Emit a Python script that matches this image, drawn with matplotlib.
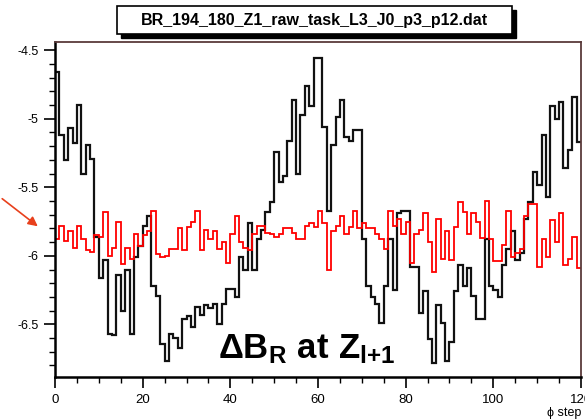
import numpy as np
import matplotlib
matplotlib.use("Agg")
import matplotlib.pyplot as plt
from matplotlib.ticker import MultipleLocator, FuncFormatter
from matplotlib.patches import Rectangle

plt.rcParams['font.family'] = ['Liberation Sans', 'DejaVu Sans']
plt.rcParams['axes.unicode_minus'] = False
plt.rcParams['mathtext.fontset'] = 'custom'
plt.rcParams['mathtext.rm'] = 'Liberation Sans:bold'
plt.rcParams['mathtext.it'] = 'Liberation Sans:bold'
plt.rcParams['mathtext.bf'] = 'Liberation Sans:bold'

# values per phi step (bins 0..119)
dB_black = [-4.66, -5.12, -5.30, -5.07, -5.18, -4.90, -5.40, -5.19, -5.29, -5.86,
            -6.16, -6.03, -6.57, -6.58, -6.14, -6.40, -6.10, -6.57, -6.01, -5.93,
            -5.78, -5.71, -6.22, -6.29, -6.64, -6.77, -6.57, -6.60, -6.67, -6.46,
            -6.44, -6.52, -6.37, -6.43, -6.36, -6.38, -6.35, -6.50, -6.35, -6.24,
            -6.24, -6.30, -6.01, -6.10, -5.76, -6.10, -5.88, -5.81, -5.68, -5.61,
            -5.24, -5.46, -5.42, -5.16, -4.86, -5.40, -4.97, -4.76, -4.91, -4.56,
            -4.56, -5.06, -5.67, -5.19, -4.99, -4.86, -5.13, -5.16, -5.08, -5.08,
            -5.88, -6.22, -6.30, -6.35, -6.49, -6.22, -5.88, -6.25, -5.69, -5.67,
            -5.67, -6.08, -6.08, -6.42, -6.26, -6.61, -6.78, -6.36, -6.49, -6.77,
            -6.63, -6.26, -6.07, -6.22, -6.09, -6.29, -6.46, -6.46, -5.88, -6.22,
            -6.25, -6.30, -6.07, -5.95, -5.82, -6.03, -5.98, -5.73, -5.61, -5.39,
            -5.48, -5.12, -5.57, -4.91, -5.00, -4.88, -5.36, -5.23, -4.84, -5.17]

dB_red = [-5.88, -5.78, -5.89, -5.82, -5.94, -5.78, -5.88, -5.96, -5.97, -5.85,
          -5.86, -5.68, -6.00, -5.94, -5.75, -6.06, -5.94, -6.02, -5.84, -5.93,
          -5.85, -5.82, -5.67, -5.99, -6.01, -6.00, -5.95, -5.95, -5.80, -5.96,
          -5.79, -5.75, -5.67, -5.96, -5.81, -5.88, -5.82, -5.95, -5.90, -6.05,
          -5.84, -5.71, -5.90, -5.94, -5.96, -5.84, -5.78, -5.78, -5.83, -5.84,
          -5.86, -5.84, -5.80, -5.80, -5.83, -5.88, -5.88, -5.78, -5.76, -5.79,
          -5.67, -5.76, -6.10, -5.82, -5.78, -5.71, -5.84, -5.79, -5.67, -5.80,
          -5.76, -5.80, -5.80, -5.84, -5.88, -5.95, -5.67, -5.78, -5.73, -5.84,
          -5.75, -6.05, -5.84, -5.81, -5.69, -5.90, -6.12, -5.73, -6.02, -5.82,
          -6.03, -5.79, -5.61, -5.68, -5.84, -5.69, -5.75, -5.87, -5.60, -5.88,
          -6.04, -6.04, -5.92, -5.67, -6.01, -5.98, -5.95, -5.71, -5.62, -5.62,
          -6.08, -5.88, -6.01, -5.74, -5.90, -5.69, -6.07, -6.02, -5.86, -6.09]

title = "BR_194_180_Z1_raw_task_L3_J0_p3_p12.dat"

fig = plt.figure(figsize=(5.85, 4.2), dpi=100)
W, H = 585.0, 420.0
ax = fig.add_axes([55 / W, 1 - 377 / H, (581 - 55) / W, (377 - 42) / H])

edges = np.arange(len(dB_black) + 1)
ax.stairs(dB_black, edges, baseline=None, color="#111111", lw=1.6)
ax.stairs(dB_red, edges, baseline=None, color="red", lw=1.3)

ax.set_xlim(0, 120)
ax.set_ylim(-6.884, -4.44)

ax.xaxis.set_major_locator(MultipleLocator(20))
ax.xaxis.set_minor_locator(MultipleLocator(5))
ax.yaxis.set_major_locator(MultipleLocator(0.5))
ax.yaxis.set_minor_locator(MultipleLocator(0.1))
ax.yaxis.set_major_formatter(FuncFormatter(lambda v, p: "%g" % v))
ax.tick_params(axis="both", which="major", direction="out", length=8, width=1.2,
               labelsize=9.5, pad=4)
ax.tick_params(axis="both", which="minor", direction="out", length=4.5, width=1.0)
ax.tick_params(axis="y", labelsize=9)

for s in ["left", "bottom"]:
    ax.spines[s].set_linewidth(1.8)
    ax.spines[s].set_color("black")
for s in ["top", "right"]:
    ax.spines[s].set_linewidth(1.3)
    ax.spines[s].set_color("#5a3a3a")

ax.text(37.2, -6.745, r"$\Delta B_R\ at\ Z_{l{+}1}$", fontsize=25, ha="left",
        va="baseline", zorder=5)

fig.text(581 / W, 1 - 413 / H, "ϕ step", fontsize=9, ha="right", va="center")

# title box with shadow
fig.patches.append(Rectangle((121 / W, 1 - 38 / H), 395 / W, 28 / H,
                             transform=fig.transFigure, facecolor="black",
                             edgecolor="black", zorder=1))
fig.patches.append(Rectangle((117 / W, 1 - 34 / H), 395 / W, 28 / H,
                             transform=fig.transFigure, facecolor="white",
                             edgecolor="black", lw=1.2, zorder=2))
fig.text(314.5 / W, 1 - 20 / H, title, fontsize=11.5, fontweight="bold",
         ha="center", va="center", zorder=3)

# red arrow in the left margin
ax.annotate("", xy=(40, H - 228), xycoords="figure pixels",
            xytext=(0, H - 197), textcoords="figure pixels",
            arrowprops=dict(arrowstyle="-|>", color="#e8401c", lw=1.2,
                            mutation_scale=14))

fig.savefig("out.png", dpi=100)
